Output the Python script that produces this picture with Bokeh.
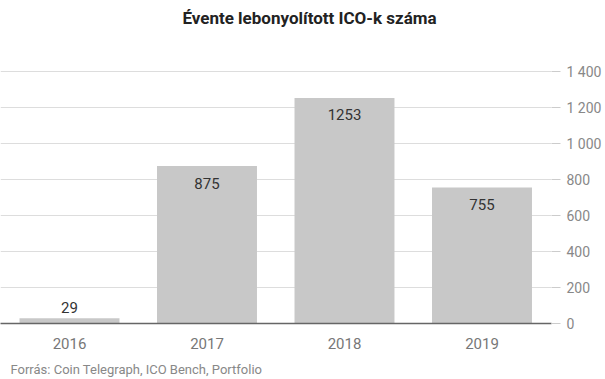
from bokeh.plotting import figure
from bokeh.models import ColumnDataSource, FixedTicker, Range1d, Title, Label
from bokeh.core.properties import value
from bokeh.embed import file_html
from bokeh.resources import INLINE

years = ["2016", "2017", "2018", "2019"]
counts = [29, 875, 1253, 755]
y_ticks = [0, 200, 400, 600, 800, 1000, 1200, 1400]
y_tick_labels = ["0", "200", "400", "600", "800", "1 000", "1 200", "1 400"]
title_text = "Évente lebonyolított ICO-k száma"
source_text = "Forrás: Coin Telegraph, ICO Bench, Portfolio"

FONT = "Roboto"
xs = list(range(len(years)))
offsets = [-11 if c < 100 else 17 for c in counts]
src = ColumnDataSource(dict(x=xs, top=counts, lab=[str(c) for c in counts], off=offsets))

FRAME_H = 323
p = figure(frame_width=551, frame_height=FRAME_H, output_backend="svg", toolbar_location=None,
           x_range=Range1d(-0.5018, 3.5055), y_range=Range1d(0, FRAME_H / 0.18),
           y_axis_location="right",
           min_border_left=0, min_border_right=46, min_border_top=0, min_border_bottom=0)
p.outline_line_color = None
p.background_fill_color = "white"
p.border_fill_color = "white"

p.vbar(x="x", top="top", width=0.727, source=src, color="#c8c8c8", line_color=None)
p.text(x="x", y="top", text="lab", y_offset="off", source=src, text_align="center",
       text_baseline="middle", text_font=value(FONT), text_font_size="15px", text_color="#333333")

# y axis
ya = p.yaxis[0]
ya.ticker = FixedTicker(ticks=y_ticks)
ya.major_label_overrides = {t: l for t, l in zip(y_ticks, y_tick_labels)}
ya.axis_line_color = None
ya.major_tick_line_color = "#cccccc"
ya.major_tick_in = 0
ya.major_tick_out = 9
ya.minor_tick_line_color = None
ya.major_label_text_font = FONT
ya.major_label_text_font_size = "14px"
ya.major_label_text_color = "#888888"
ya.major_label_standoff = 6

# x axis
xa = p.xaxis[0]
xa.ticker = FixedTicker(ticks=xs)
xa.major_label_overrides = {i: y for i, y in zip(xs, years)}
xa.axis_line_color = "#666666"
xa.axis_line_width = 1.5
xa.major_tick_line_color = None
xa.minor_tick_line_color = None
xa.major_label_text_font = FONT
xa.major_label_text_font_size = "15px"
xa.major_label_text_color = "#777777"
xa.major_label_standoff = 8

p.xgrid.grid_line_color = None
p.ygrid.ticker = FixedTicker(ticks=y_ticks[1:])
p.ygrid.grid_line_color = "#dddddd"
p.ygrid.grid_line_width = 1

p.add_layout(Title(text=source_text, text_font=FONT, text_font_size="13px",
                   text_font_style="normal", text_color="#888888", align="left",
                   offset=10, standoff=17), "below")
p.add_layout(Label(x=309, y=FRAME_H - 17, x_units="screen", y_units="screen", text=title_text,
                   text_font=FONT, text_font_size="17px", text_font_style="bold",
                   text_color="#222222", text_align="center", text_baseline="middle"))

open("out.html", "w").write(file_html(p, INLINE))
